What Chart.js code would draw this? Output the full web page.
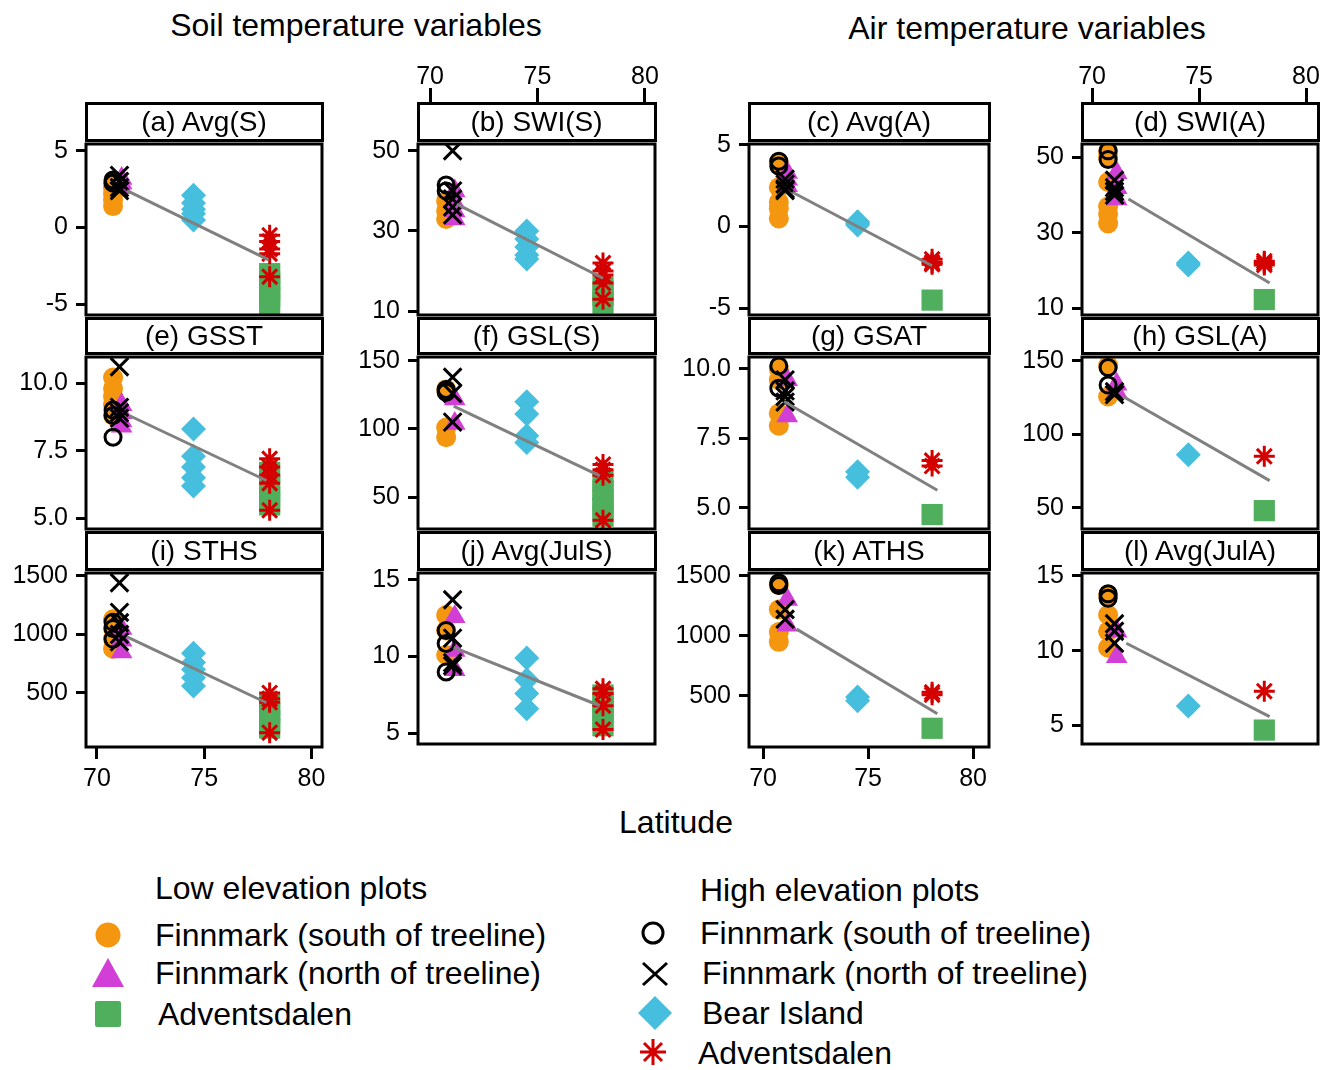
<!DOCTYPE html>
<html>
<head>
<meta charset="utf-8">
<script src="https://cdn.jsdelivr.net/npm/chart.js@4/dist/chart.umd.min.js"></script>
<style>
  body { margin: 0; background: #fff; font-family: "Liberation Sans", Arial, sans-serif; }
  #page { position: relative; width: 1334px; height: 1070px; overflow: hidden; background: #fff; }
  canvas { position: absolute; }
  .txt { position: absolute; white-space: nowrap; color: #000; line-height: 32px; font-size: 32px; }
  .strip { position: absolute; box-sizing: border-box; border: 3px solid #000; font-size: 28px;
           display: flex; align-items: center; justify-content: center; }
  svg { position: absolute; left: 0; top: 0; }
</style>
</head>
<body>
<div id="page"></div>
<script>
// ---- data ----
const panelTitles = ["(a) Avg(S)", "(b) SWI(S)", "(c) Avg(A)", "(d) SWI(A)",
                     "(e) GSST", "(f) GSL(S)", "(g) GSAT", "(h) GSL(A)",
                     "(i) STHS", "(j) Avg(JulS)", "(k) ATHS", "(l) Avg(JulA)"];
const latTicks = [70, 75, 80];
const yTicks = [[-5, 0, 5], [10, 30, 50], [-5, 0, 5], [10, 30, 50],
                [5, 7.5, 10], [50, 100, 150], [5, 7.5, 10], [50, 100, 150],
                [500, 1000, 1500], [5, 10, 15], [500, 1000, 1500], [5, 10, 15]];
const yTickLabels = [["-5", "0", "5"], ["10", "30", "50"], ["-5", "0", "5"], ["10", "30", "50"],
                     ["5.0", "7.5", "10.0"], ["50", "100", "150"], ["5.0", "7.5", "10.0"], ["50", "100", "150"],
                     ["500", "1000", "1500"], ["5", "10", "15"], ["500", "1000", "1500"], ["5", "10", "15"]];
const yMin = [-5.69, 9.04, -5.41, 8.2, 4.61, 26.6, 4.24, 35.5, 38, 4.31, 74, 3.77];
const yMax = [5.44, 51.7, 5.05, 53.6, 10.96, 152.8, 10.42, 152.6, 1525, 15.44, 1525, 15.19];

// latitude of each group: FS low, FN low, Adv low, FS high, FN high, Bear Island, Adv high
const groupLat = [70.75, 71.15, 78.05, 70.75, 71.05, 74.5, 78.05];

const finnSouthLow = [[2.9, 2.6, 2.2, 1.8, 1.4], [37.5, 35, 33], [3.9, 2.4, 1.5, 1.1, 0.5], [51.5, 50, 43.5, 37, 35, 32.5],
  [10.2, 9.8, 9.5, 9.2, 8.8], [129, 101, 94], [10.0, 9.6, 8.4, 7.95], [146.7, 125.7],
  [1130, 1050, 962, 878], [12.7, 11.7, 10.1], [1426, 1221, 1033, 951], [13.7, 12.4, 11.3, 10.2]];
const finnNorthLow = [[3.2, 2.9, 2.6], [40, 37, 35, 33], [3.3, 2.9, 2.5], [46, 42, 39],
  [9.2, 8.9, 8.6, 8.4], [122, 104], [9.6, 8.3], [134, 129],
  [1050, 950, 850], [12.6, 10.4, 9.15], [1303, 1090], [11.3, 9.6]];
const advLow = [[-3.0, -3.5, -4.0, -4.5, -5.0], [16, 14, 12], [-4.5], [12.3],
  [6.7, 6.2, 5.8, 5.5], [62, 55, 48, 42, 36], [4.76], [48],
  [400, 330, 260, 200], [7.5, 7.0, 6.5, 6.0, 5.5], [230], [4.7]];
const finnSouthHigh = [[3.1, 2.9], [41.5, 40], [4.0, 3.7], [51.8, 49.5],
  [9.0, 8.8, 8.0], [129, 127], [10.1, 9.3], [145.4, 133.5],
  [1105, 1050, 960], [11.7, 10.85, 9.0], [1443, 1420], [13.8, 13.5]];
const finnNorthHigh = [[3.4, 3.0, 2.6, 2.4], [50, 40, 38, 36, 34], [2.9, 2.6, 2.3, 2.2], [44, 42, 41, 40],
  [10.6, 9.1, 8.9, 8.7], [138, 126, 105], [9.6, 9.2, 9.0, 8.8], [129, 127],
  [1441, 1189, 1100, 1000, 937], [13.7, 11.2, 9.6, 9.4], [1220, 1140], [11.8, 11.3, 10.5]];
const bearIsland = [[2.1, 1.6, 1.2, 0.9, 0.5], [30, 28, 26, 24, 23], [0.3, 0.2, 0.1], [22, 21.5],
  [8.3, 7.3, 6.9, 6.5, 6.2], [120, 111, 95, 90], [6.3, 6.1], [86],
  [840, 760, 700, 630, 560], [9.9, 8.5, 7.6, 6.6], [490, 460], [6.3]];
const advHigh = [[-0.5, -0.9, -1.4, -1.7, -3.2], [22, 20, 19, 17, 13], [-2.0, -2.2, -2.3], [22.5, 22, 21.5],
  [7.2, 6.9, 6.6, 6.3, 5.3], [74, 70, 66, 33], [6.7, 6.5], [85],
  [500, 450, 420, 160], [7.9, 7.6, 6.8, 5.25], [530, 510], [7.3]];

// fitted trend line end points
const trendLat = [[71.4, 78.0], [71.25, 78.05], [71.4, 78.05], [71.7, 78.3],
  [71.5, 77.9], [71.1, 77.9], [71.0, 78.3], [71.45, 78.3],
  [71.4, 77.9], [71.1, 77.9], [71.6, 78.3], [71.6, 78.3]];
const trendVal = [[2.4, -2.1], [36.7, 18.2], [2.1, -2.4], [39, 16.7],
  [8.8, 6.4], [116.7, 65.6], [8.82, 5.63], [125.7, 68.4],
  [980, 416], [10.6, 6.8], [1057, 352], [10.5, 5.6]];

// ---- layout ----
const FONT = "'Liberation Sans', Arial, sans-serif";
Chart.defaults.font.family = FONT;
const COL_L = [86, 418, 749, 1082];
const COL_R = [322, 655, 989, 1318];
const ROW_T = [141, 354, 570];
const ROW_B = [318, 532, 747];
const STRIP = [[102, 40], [317, 38], [531, 40]];
const X_RANGE = [[69.49, 80.49], [69.44, 80.47], [69.33, 80.76], [69.53, 80.56]];

const ORANGE = "#F4960F", MAGENTA = "#D23FD6", GREEN = "#50AF5C", CYAN = "#46BEDD", RED = "#D40000";
const groupStyle = [
  { shape: "circle", r: 10, fill: ORANGE, stroke: ORANGE, bw: 0 },
  { shape: "triangle", r: 12.5, fill: MAGENTA, stroke: MAGENTA, bw: 0 },
  { shape: "rect", r: 15, fill: GREEN, stroke: GREEN, bw: 0 },
  { shape: "circle", r: 8, fill: "rgba(0,0,0,0)", stroke: "#000", bw: 3 },
  { shape: "crossRot", r: 12.5, fill: "#000", stroke: "#000", bw: 3 },
  { shape: "rectRot", r: 12.5, fill: CYAN, stroke: CYAN, bw: 0 },
  { shape: "star", r: 10.5, fill: RED, stroke: RED, bw: 3 }
];
const groups = [finnSouthLow, finnNorthLow, advLow, finnSouthHigh, finnNorthHigh, bearIsland, advHigh];

const page = document.getElementById("page");

const framePlugin = {
  id: "frame",
  afterDraw(chart) {
    const a = chart.chartArea, ctx = chart.ctx;
    ctx.save();
    ctx.lineWidth = 3;
    ctx.strokeStyle = "#000";
    ctx.strokeRect(a.left, a.top, a.right - a.left, a.bottom - a.top);
    ctx.restore();
  }
};

function axisTicks(len) {
  return { drawOnChartArea: false, drawTicks: true, tickLength: len, tickWidth: 3, tickColor: "#000" };
}

function makePanel(p) {
  const row = Math.floor(p / 4), col = p % 4;
  const bottomAxis = row === 2 && (col === 0 || col === 2);
  const YW = 86, PADT = 20, PADR = 24, XH = 52;
  const padB = bottomAxis ? 0 : 20;
  const cv = document.createElement("canvas");
  cv.width = YW + (COL_R[col] - COL_L[col]) + PADR;
  cv.height = PADT + (ROW_B[row] - ROW_T[row]) + (bottomAxis ? XH : 0) + padB;
  cv.style.left = (COL_L[col] - YW) + "px";
  cv.style.top = (ROW_T[row] - PADT) + "px";
  page.appendChild(cv);

  const datasets = groups.map((g, gi) => ({
    data: g[p].map(v => ({ x: groupLat[gi], y: v })),
    pointStyle: groupStyle[gi].shape,
    pointRadius: groupStyle[gi].r,
    pointHoverRadius: groupStyle[gi].r,
    pointBackgroundColor: groupStyle[gi].fill,
    pointBorderColor: groupStyle[gi].stroke,
    pointBorderWidth: groupStyle[gi].bw,
    showLine: false,
    order: 10 - gi
  }));
  datasets.push({
    data: trendLat[p].map((x, i) => ({ x: x, y: trendVal[p][i] })),
    showLine: true,
    borderColor: "#808080",
    borderWidth: 3,
    pointRadius: 0,
    fill: false,
    order: 0
  });

  new Chart(cv, {
    type: "scatter",
    data: { datasets },
    plugins: [framePlugin],
    options: {
      responsive: false,
      animation: false,
      devicePixelRatio: 1,
      events: [],
      layout: { autoPadding: false, padding: { top: PADT, right: PADR, bottom: padB, left: 0 } },
      plugins: { legend: { display: false }, tooltip: { enabled: false } },
      scales: {
        x: {
          type: "linear",
          position: "bottom",
          display: bottomAxis,
          min: X_RANGE[col][0],
          max: X_RANGE[col][1],
          afterBuildTicks: s => { s.ticks = latTicks.map(v => ({ value: v })); },
          afterFit: s => { if (bottomAxis) s.height = XH; },
          grid: axisTicks(12),
          border: { display: false },
          ticks: { color: "#000", font: { size: 25 }, padding: 5, maxRotation: 0, autoSkip: false }
        },
        y: {
          type: "linear",
          min: yMin[p],
          max: yMax[p],
          afterBuildTicks: s => { s.ticks = yTicks[p].map(v => ({ value: v })); },
          afterFit: s => { s.width = YW; },
          grid: axisTicks(10),
          border: { display: false },
          ticks: {
            color: "#000", font: { size: 25 }, padding: 8, autoSkip: false,
            callback: (v, i) => yTickLabels[p][i]
          }
        }
      }
    }
  });

  const st = document.createElement("div");
  st.className = "strip";
  st.style.left = (COL_L[col] - 1.5) + "px";
  st.style.width = (COL_R[col] - COL_L[col] + 3) + "px";
  st.style.top = STRIP[row][0] + "px";
  st.style.height = STRIP[row][1] + "px";
  st.textContent = panelTitles[p];
  page.appendChild(st);
}

function makeTopAxis(col) {
  const PAD = 30, AH = 53;
  const cv = document.createElement("canvas");
  cv.width = (COL_R[col] - COL_L[col]) + 2 * PAD;
  cv.height = AH + 3;
  cv.style.left = (COL_L[col] - PAD) + "px";
  cv.style.top = (STRIP[0][0] + 1 - AH) + "px";
  page.appendChild(cv);
  new Chart(cv, {
    type: "scatter",
    data: { datasets: [] },
    options: {
      responsive: false,
      animation: false,
      devicePixelRatio: 1,
      events: [],
      layout: { autoPadding: false, padding: { left: PAD, right: PAD, top: 0, bottom: 0 } },
      plugins: { legend: { display: false }, tooltip: { enabled: false } },
      scales: {
        x: {
          type: "linear",
          position: "top",
          min: X_RANGE[col][0],
          max: X_RANGE[col][1],
          afterBuildTicks: s => { s.ticks = latTicks.map(v => ({ value: v })); },
          afterFit: s => { s.height = AH; },
          grid: axisTicks(15),
          border: { display: false },
          ticks: { color: "#000", font: { size: 25 }, padding: -4, maxRotation: 0, autoSkip: false }
        },
        y: { display: false, min: 0, max: 1 }
      }
    }
  });
}

for (let p = 0; p < 12; p++) makePanel(p);
makeTopAxis(1);
makeTopAxis(3);

// ---- titles ----
function addText(str, left, top, opts) {
  const d = document.createElement("div");
  d.className = "txt";
  d.textContent = str;
  d.style.left = left + "px";
  d.style.top = top + "px";
  if (opts && opts.center) {
    d.style.width = "600px";
    d.style.marginLeft = "-300px";
    d.style.textAlign = "center";
  }
  page.appendChild(d);
}
addText("Soil temperature variables", 356, 9, { center: true });
addText("Air temperature variables", 1027, 12, { center: true });
addText("Latitude", 676, 806, { center: true });

// ---- legend ----
addText("Low elevation plots", 155, 872);
addText("Finnmark (south of treeline)", 155, 919);
addText("Finnmark (north of treeline)", 155, 957);
addText("Adventsdalen", 158, 998);
addText("High elevation plots", 700, 874);
addText("Finnmark (south of treeline)", 700, 917);
addText("Finnmark (north of treeline)", 702, 957);
addText("Bear Island", 702, 997);
addText("Adventsdalen", 698, 1037);

const NS = "http://www.w3.org/2000/svg";
const svg = document.createElementNS(NS, "svg");
svg.setAttribute("width", "1334");
svg.setAttribute("height", "1070");
svg.innerHTML =
  '<circle cx="108" cy="935" r="12.5" fill="' + ORANGE + '"/>' +
  '<polygon points="108,958 92,987 124,987" fill="' + MAGENTA + '"/>' +
  '<rect x="95" y="1001" width="26" height="26" rx="2" fill="' + GREEN + '"/>' +
  '<circle cx="653" cy="933" r="10" fill="none" stroke="#000" stroke-width="3"/>' +
  '<path d="M643,963 L667,985 M667,963 L643,985" stroke="#000" stroke-width="3" fill="none"/>' +
  '<polygon points="655,996 672,1013 655,1030 638,1013" fill="' + CYAN + '"/>' +
  '<path d="M653,1039 L653,1065 M640,1052 L666,1052 M644,1043 L662,1061 M662,1043 L644,1061" stroke="' + RED + '" stroke-width="3" fill="none"/>';
page.appendChild(svg);
</script>
</body>
</html>
